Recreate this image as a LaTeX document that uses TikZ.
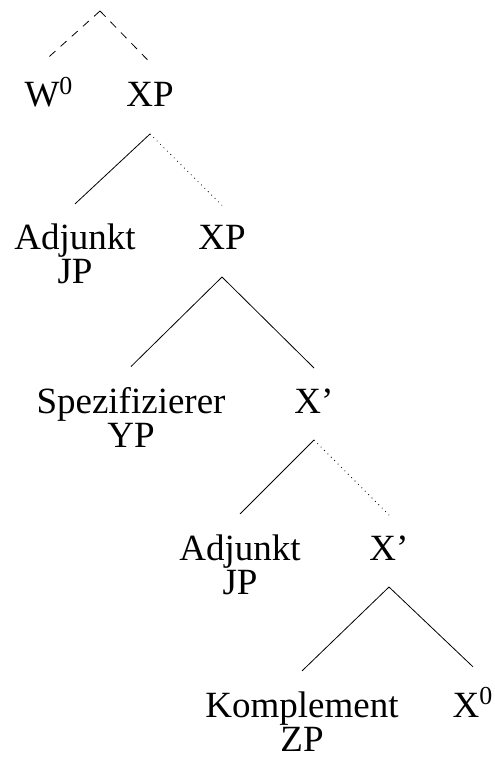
\documentclass[tikz,border=0pt]{standalone}
\usepackage{fontspec}
\setmainfont{Liberation Serif}

% two daughters hanging off one mother node
\newcommand{\branch}[5]{%
    \draw[#4] ([yshift=-13.5pt]#1.base) -- ([yshift=10pt]#2.north);
    \draw[#5] ([yshift=-13.5pt]#1.base) -- ([yshift=10pt]#3.north);
}

\begin{document}
\begin{tikzpicture}[x=0.5pt, y=-0.5pt,
    font=\fontsize{18.5}{17}\selectfont,
    every node/.style={anchor=base, inner sep=0pt, align=center}]
    \useasboundingbox (0,0) rectangle (494,764);
    % labels, level by level (two-line labels sit on their last line)
    \coordinate (top) at (100,11);
    \node (w0) at (49,107) {W\textsuperscript{0}};
    \node (xp1) at (150,107) {XP};
    \node (adj1) at (75,284) {Adjunkt\\JP};
    \node (xp2) at (222,250) {XP};
    \node (spez) at (131,447) {Spezifizierer\\YP};
    \node (xbar1) at (314,413) {X’};
    \node (adj2) at (240,594) {Adjunkt\\JP};
    \node (xbar2) at (389,560) {X’};
    \node (komp) at (302,751) {Komplement\\ZP};
    \node (x0) at (473,717) {X\textsuperscript{0}};
    % branches
    \draw[dash pattern=on 4pt off 3.5pt] (top) -- ([yshift=10pt]w0.north);
    \draw[dash pattern=on 4pt off 3.5pt] (top) -- ([yshift=10pt]xp1.north);
    \branch{xp1}{adj1}{xp2}{}{dotted}
    \branch{xp2}{spez}{xbar1}{}{}
    \branch{xbar1}{adj2}{xbar2}{}{dotted}
    \branch{xbar2}{komp}{x0}{}{}
\end{tikzpicture}
\end{document}
